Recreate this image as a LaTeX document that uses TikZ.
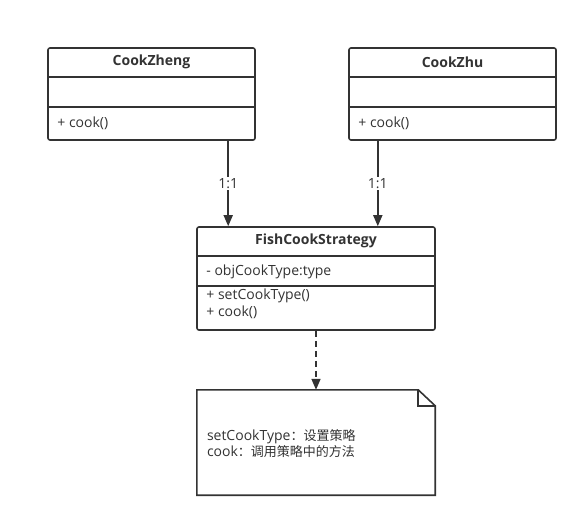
\documentclass[tikz,border=0pt]{standalone}
\usepackage{fontspec}
\setmainfont{Open Sans}
\newfontfamily\cjk{Noto Sans CJK SC}
\usetikzlibrary{positioning, arrows.meta}
\definecolor{umlline}{HTML}{333333}
\def\rowh{30pt}
\begin{document}
\begin{tikzpicture}[x=1pt, y=-1pt, font=\fontsize{14pt}{16pt}\selectfont, text=umlline]
			\tikzstyle{umlbox}=[rectangle, draw=umlline, line width=1.6pt, rounded corners=2pt, inner sep=0pt]
			\tikzstyle{title}=[font=\fontsize{14pt}{16pt}\selectfont\bfseries]
			\tikzstyle{member}=[anchor=west, inner sep=0pt]
			\tikzstyle{divider}=[draw=umlline, line width=1.6pt]
			\tikzstyle{assoc}=[-{Triangle[length=11pt, width=9pt]}, draw=umlline, line width=1.6pt]
			\tikzstyle{dep}=[assoc, dash pattern=on 6pt off 4pt]
			\tikzstyle{mult}=[fill=white, inner sep=1pt]

			\useasboundingbox[fill=white] (0,0) rectangle (588,528);

			% Draw the two concrete cook classes
			\foreach \name/\cx/\label in {zheng/151.5/CookZheng, zhu/452.5/CookZhu} {
				\node[umlbox, minimum width=207pt, minimum height=92pt] (\name) at (\cx,94) {};
				\node[title] at ([yshift=-15pt]\name.north) {\label};
				\draw[divider] ([yshift=-\rowh]\name.north west) -- ([yshift=-\rowh]\name.north east);
				\draw[divider] ([yshift=-2*\rowh]\name.north west) -- ([yshift=-2*\rowh]\name.north east);
				\node[member] at ([xshift=10pt, yshift=-76pt]\name.north west) {+ cook()};
			}

			% Draw the strategy class
			\node[umlbox, minimum width=238pt, minimum height=103pt] (fish) at (316,278.5) {};
			\node[title] at ([yshift=-15pt]fish.north) {FishCookStrategy};
			\draw[divider] ([yshift=-\rowh]fish.north west) -- ([yshift=-\rowh]fish.north east);
			\draw[divider] ([yshift=-2*\rowh]fish.north west) -- ([yshift=-2*\rowh]fish.north east);
			\node[member] at ([xshift=10pt, yshift=-46pt]fish.north west) {- objCookType:type};
			\node[member] at ([xshift=10pt, yshift=-70pt]fish.north west) {+ setCookType()};
			\node[member] at ([xshift=10pt, yshift=-86pt]fish.north west) {+ cook()};

			% Draw the note with its folded corner
			\node[minimum width=238pt, minimum height=105pt, inner sep=0pt] (note) at (316,442.5) {};
			\draw[divider] (note.south west) -- (note.north west) -- ([xshift=-17pt]note.north east)
				-- ([yshift=-16pt]note.north east) -- (note.south east) -- cycle;
			\draw[divider] ([xshift=-17pt]note.north east) |- ([yshift=-16pt]note.north east);
			\node[member, align=left] at ([xshift=10pt, yshift=-1pt]note.west)
				{setCookType{\cjk\fontsize{13pt}{16pt}\selectfont：设置策略}\\cook{\cjk\fontsize{13pt}{16pt}\selectfont：调用策略中的方法}};

			% Connect the cook classes with the strategy
			\coordinate (in-zheng) at ([xshift=32pt]fish.north west);
			\coordinate (in-zhu) at ([xshift=-58pt]fish.north east);
			\foreach \name in {zheng, zhu} {
				\draw[assoc] (\name.south -| in-\name) -- node[mult, pos=0.5] {1:1} (in-\name);
			}

			% Connect the strategy with the note
			\draw[dep] (fish.south) -- (note.north);
\end{tikzpicture}
\end{document}
